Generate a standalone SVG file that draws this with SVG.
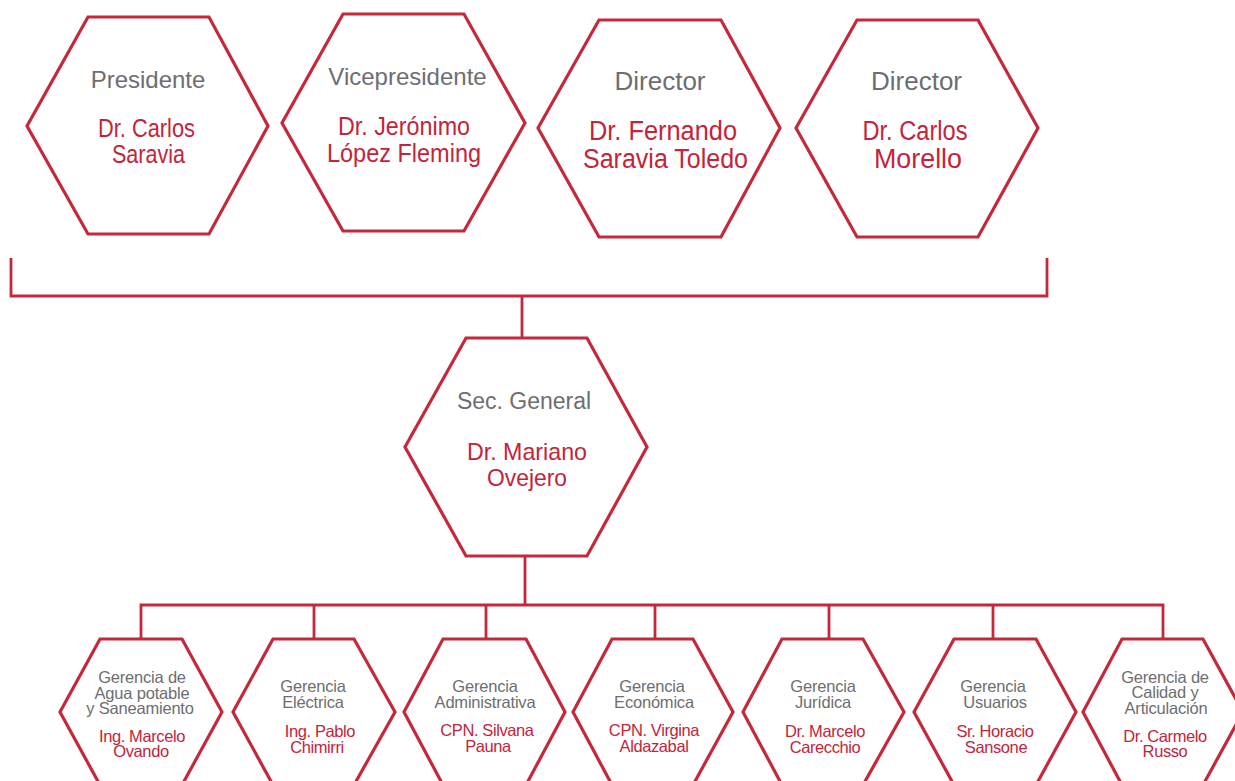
<svg xmlns="http://www.w3.org/2000/svg" width="1235" height="781" viewBox="0 0 1235 781">
<style>
.hex{fill:#fff;stroke:#c4283a;stroke-width:3.2;stroke-linejoin:miter}
.con{fill:none;stroke:#c4283a;stroke-width:2.8}
text{font-family:"Liberation Sans",Arial,sans-serif;text-anchor:middle}
.t1{fill:#6d6e71;font-size:24px}
.t2{fill:#6d6e71;font-size:26px}
.n1{fill:#c4243a;font-size:25px}
.n2{fill:#c4243a;font-size:27px}
.ts{fill:#6d6e71;font-size:16.5px;letter-spacing:-0.2px}
.ns{fill:#c4243a;font-size:16.5px;letter-spacing:-0.4px}
</style>
<rect width="1235" height="781" fill="#fff"/>
<g id="connectors">
<path class="con" d="M11,258 V296 H1047 V258"/>
<path class="con" d="M522,296 V338"/>
<path class="con" d="M525,556 V605"/>
<path class="con" d="M141,639 V605 H1163 V639"/>
<path class="con" d="M314,605 V639 M486,605 V639 M655,605 V639 M829,605 V639 M993,605 V639"/>
</g>
<g id="presidente">
<polygon class="hex" points="88,17 209,17 268,126 209,234 88,234 27,126"/>
<text class="t1" x="148" y="88">Presidente</text>
<text class="n1" x="146.5" y="137" textLength="97" lengthAdjust="spacingAndGlyphs">Dr. Carlos</text>
<text class="n1" x="148.5" y="163" textLength="73" lengthAdjust="spacingAndGlyphs">Saravia</text>
</g>
<g id="vicepresidente">
<polygon class="hex" points="343,14 464,14 525,123 464,231 343,231 282,123"/>
<text class="t1" x="407.5" y="85">Vicepresidente</text>
<text class="n1" x="404" y="135" textLength="132" lengthAdjust="spacingAndGlyphs">Dr. Jerónimo</text>
<text class="n1" x="404" y="162" textLength="154" lengthAdjust="spacingAndGlyphs">López Fleming</text>
</g>
<g id="director1">
<polygon class="hex" points="599,20 721,20 780,128 721,237 599,237 538,128"/>
<text class="t2" x="660" y="90">Director</text>
<text class="n2" x="663" y="140" textLength="148" lengthAdjust="spacingAndGlyphs">Dr. Fernando</text>
<text class="n2" x="665.5" y="168" textLength="165" lengthAdjust="spacingAndGlyphs">Saravia Toledo</text>
</g>
<g id="director2">
<polygon class="hex" points="857,20 978,20 1038,128 978,237 857,237 796,128"/>
<text class="t2" x="916.5" y="90">Director</text>
<text class="n2" x="915" y="140" textLength="105" lengthAdjust="spacingAndGlyphs">Dr. Carlos</text>
<text class="n2" x="918" y="168" textLength="88" lengthAdjust="spacingAndGlyphs">Morello</text>
</g>
<g id="sec-general">
<polygon class="hex" points="466,338 587,338 647,447 587,556 466,556 405,447"/>
<text class="t1" x="524" y="409" style="font-size:23px">Sec. General</text>
<text class="n1" x="527" y="460" textLength="120" lengthAdjust="spacingAndGlyphs" style="font-size:24px">Dr. Mariano</text>
<text class="n1" x="527" y="486" textLength="80" lengthAdjust="spacingAndGlyphs" style="font-size:24px">Ovejero</text>
</g>
<g id="gerencia-agua">
<polygon class="hex" points="100,639 182,639 222,712 182,785 100,785 60,712"/>
<text class="ts" x="142" y="683">Gerencia de</text>
<text class="ts" x="142" y="699">Agua potable</text>
<text class="ts" x="140" y="714">y Saneamiento</text>
<text class="ns" x="142" y="742">Ing. Marcelo</text>
<text class="ns" x="141" y="757">Ovando</text>
</g>
<g id="gerencia-electrica">
<polygon class="hex" points="273,639 354,639 395,712 354,785 273,785 233,712"/>
<text class="ts" x="313" y="692">Gerencia</text>
<text class="ts" x="313" y="708">Eléctrica</text>
<text class="ns" x="320" y="737">Ing. Pablo</text>
<text class="ns" x="317" y="753">Chimirri</text>
</g>
<g id="gerencia-administrativa">
<polygon class="hex" points="443,639 526,639 565,712 526,785 443,785 404,712"/>
<text class="ts" x="485" y="692">Gerencia</text>
<text class="ts" x="485" y="708">Administrativa</text>
<text class="ns" x="487" y="736">CPN. Silvana</text>
<text class="ns" x="488" y="752">Pauna</text>
</g>
<g id="gerencia-economica">
<polygon class="hex" points="612,639 693,639 733,712 693,785 612,785 573,712"/>
<text class="ts" x="652" y="692">Gerencia</text>
<text class="ts" x="654" y="708">Económica</text>
<text class="ns" x="654" y="736">CPN. Virgina</text>
<text class="ns" x="654" y="752">Aldazabal</text>
</g>
<g id="gerencia-juridica">
<polygon class="hex" points="782,639 863,639 904,712 863,785 782,785 743,712"/>
<text class="ts" x="823" y="692">Gerencia</text>
<text class="ts" x="823" y="708">Jurídica</text>
<text class="ns" x="825" y="737">Dr. Marcelo</text>
<text class="ns" x="825" y="753">Carecchio</text>
</g>
<g id="gerencia-usuarios">
<polygon class="hex" points="954,639 1036,639 1076,712 1036,785 954,785 914,712"/>
<text class="ts" x="993" y="692">Gerencia</text>
<text class="ts" x="995" y="708">Usuarios</text>
<text class="ns" x="995" y="737">Sr. Horacio</text>
<text class="ns" x="996" y="753">Sansone</text>
</g>
<g id="gerencia-calidad">
<polygon class="hex" points="1122,639 1203,639 1243,712 1203,785 1122,785 1083,712"/>
<text class="ts" x="1165" y="683">Gerencia de</text>
<text class="ts" x="1165" y="698">Calidad y</text>
<text class="ts" x="1166" y="714">Articulación</text>
<text class="ns" x="1165" y="742">Dr. Carmelo</text>
<text class="ns" x="1165" y="757">Russo</text>
</g>
</svg>
